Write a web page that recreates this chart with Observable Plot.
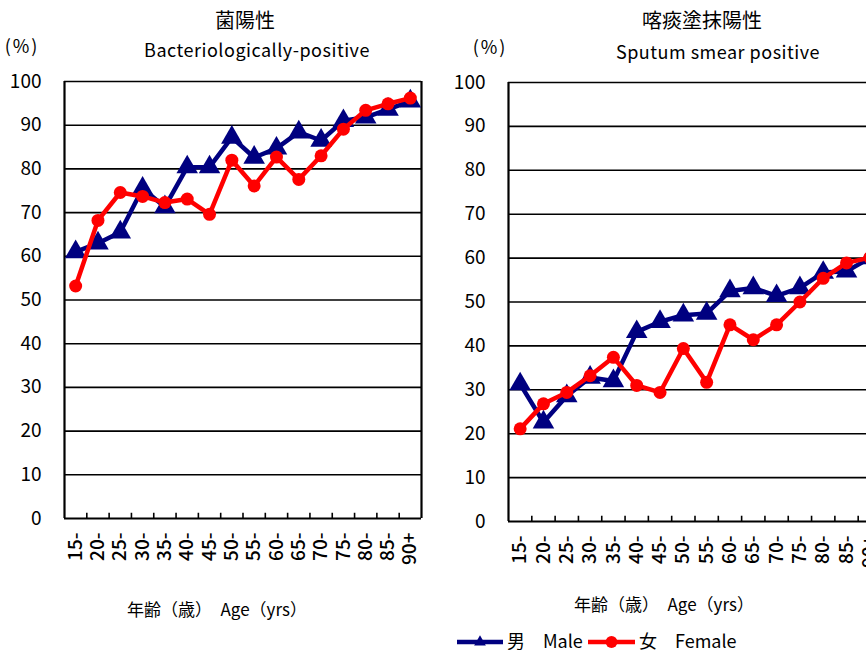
<!DOCTYPE html>
<html><head><meta charset="utf-8">
<script src="https://cdn.jsdelivr.net/npm/d3@7"></script>
<script src="https://cdn.jsdelivr.net/npm/@observablehq/plot@0.6"></script>
<style>
html,body{margin:0;padding:0;background:#fff;overflow:hidden;}
#wrap{position:relative;width:866px;height:654px;overflow:hidden;font-family:"Noto Sans CJK JP","Liberation Sans",sans-serif;color:#000;}
.t{position:absolute;white-space:nowrap;transform:translate(-50%,-50%);line-height:1;}
.plot{position:absolute;top:0;}
</style></head><body><div id="wrap"></div>
<script>
const ages = ["15-","20-","25-","30-","35-","40-","45-","50-","55-","60-","65-","70-","75-","80-","85-","90+"];
const bactMale   = [61, 63, 65.5, 75.5, 71.3, 80.4, 80.4, 87.2, 82.6, 84.7, 88.4, 86.5, 91, 91.8, 93.6, 95.5];
const bactFemale = [53.2, 68.2, 74.6, 73.7, 72.3, 73.1, 69.6, 82, 76.1, 82.7, 77.6, 83, 89.1, 93.4, 94.9, 96.2];
const smearMale   = [31.3, 22.6, 28.6, 32.8, 32, 43.2, 45.5, 47, 47.4, 52.5, 53.2, 51.4, 53.2, 56.7, 57, 60];
const smearFemale = [21.1, 26.8, 29.4, 33.2, 37.4, 31, 29.4, 39.4, 31.7, 44.8, 41.4, 44.8, 50, 55.4, 58.9, 60.1];
const yTicks = [0,10,20,30,40,50,60,70,80,90,100];
const titles = ["菌陽性", "喀痰塗抹陽性"];
const subtitles = ["Bacteriologically-positive", "Sputum smear positive"];
const xTitle = "年齢（歳）　Age（yrs）";
const legendLabels = ["男　Male", "女　Female"];
const MALE = "#000080", FEMALE = "#ff0000";
const FONT = '"Noto Sans CJK JP","Liberation Sans",sans-serif';

const wrap = document.getElementById("wrap");

function chart(male, female, o) {
  const idx = ages.map((_, i) => i);
  const rows = s => s.map((v, i) => ({i, v}));
  return Plot.plot({
    width: o.width, height: o.height,
    marginLeft: o.ml, marginRight: o.mr, marginTop: o.mt, marginBottom: o.mb,
    style: {fontSize: "19px", fontFamily: FONT, color: "#000", background: "transparent"},
    x: {domain: [-0.5, ages.length - 0.5], label: null},
    y: {domain: [0, 100], label: null},
    marks: [
      Plot.axisX(idx, {tickFormat: i => ages[i], tickSize: 0, tickRotate: -90, tickPadding: 14, fontWeight: 500, label: null}),
      Plot.axisY(yTicks, {tickSize: 0, tickPadding: 23, label: null}),
      Plot.ruleY(yTicks.slice(1), {stroke: "#000", strokeWidth: 1.6}),
      Plot.ruleY([0], {stroke: "#000", strokeWidth: 2.2}),
      Plot.ruleX([-0.5, ages.length - 0.5], {stroke: "#000", strokeWidth: 2.2}),
      Plot.ruleX(idx.slice(1).map(i => i - 0.5), {y1: 0, y2: 1.2, stroke: "#000", strokeWidth: 1.6}),
      Plot.line(rows(male), {x: "i", y: "v", stroke: MALE, strokeWidth: 4.5}),
      Plot.dot(rows(male), {x: "i", y: "v", symbol: "triangle", r: 8, fill: MALE, stroke: "none"}),
      Plot.line(rows(female), {x: "i", y: "v", stroke: FEMALE, strokeWidth: 4.5}),
      Plot.dot(rows(female), {x: "i", y: "v", r: 6.5, fill: FEMALE, stroke: "none"})
    ]
  });
}

const left = chart(bactMale, bactFemale, {width: 433, height: 580, ml: 64, mr: 12, mt: 81, mb: 62});
left.classList.add("plot"); left.style.left = "0px";
wrap.appendChild(left);

const right = chart(smearMale, smearFemale, {width: 460, height: 583, ml: 75, mr: 12, mt: 82, mb: 62});
right.classList.add("plot"); right.style.left = "433px";
wrap.appendChild(right);

function text(str, x, y, size, extra) {
  const d = document.createElement("div");
  d.className = "t";
  d.textContent = str;
  d.style.left = x + "px"; d.style.top = y + "px"; d.style.fontSize = size + "px";
  if (extra) Object.assign(d.style, extra);
  wrap.appendChild(d);
  return d;
}
text(titles[0], 245, 20, 20);
text(subtitles[0], 257, 49, 18, {letterSpacing: "0.5px"});
text("(%)", 22, 45, 18, {letterSpacing: "2px"});
text(titles[1], 702, 20, 20);
text(subtitles[1], 718, 51, 18, {letterSpacing: "0.5px"});
text("(%)", 490, 46, 18, {letterSpacing: "2px"});
text(xTitle, 217, 608, 17);
text(xTitle, 664, 603, 17);

// legend
const lg = d3.select(wrap).append("svg").attr("width", 866).attr("height", 30)
  .style("position", "absolute").style("left", "0px").style("top", "627px");
const items = [
  {x1: 457, x2: 503, color: MALE, sym: d3.symbolTriangle, size: 60, tx: 507, label: legendLabels[0]},
  {x1: 588, x2: 635, color: FEMALE, sym: d3.symbolCircle, size: 110, tx: 639, label: legendLabels[1]}
];
for (const it of items) {
  lg.append("line").attr("x1", it.x1).attr("x2", it.x2).attr("y1", 15).attr("y2", 15)
    .attr("stroke", it.color).attr("stroke-width", 4.5);
  lg.append("path").attr("d", d3.symbol(it.sym, it.size)()).attr("transform", `translate(${(it.x1 + it.x2) / 2},15)`).attr("fill", it.color);
  lg.append("text").attr("x", it.tx).attr("y", 15).attr("dy", "0.36em").attr("font-size", 18)
    .attr("font-family", FONT).text(it.label);
}
</script></body></html>
